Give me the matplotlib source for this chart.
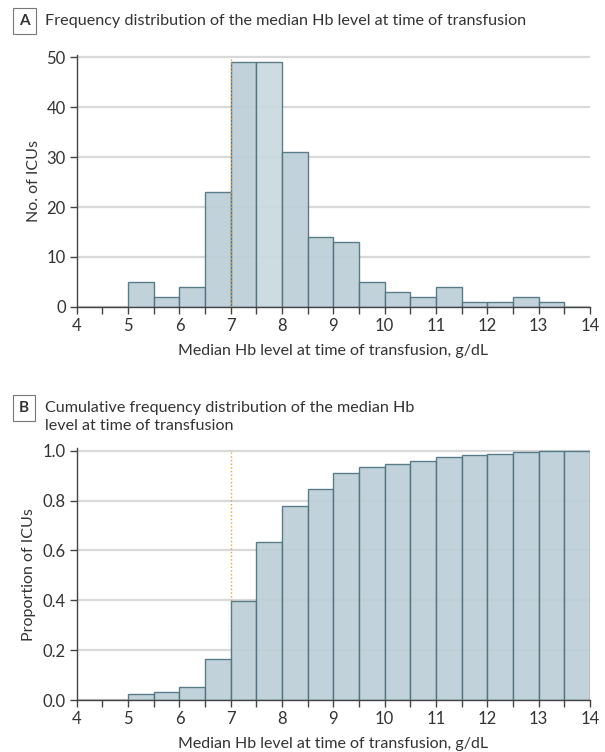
import numpy as np
import matplotlib
matplotlib.use('Agg')
import matplotlib.pyplot as plt
from matplotlib.ticker import MultipleLocator

plt.rcParams['font.family'] = ['Lato', 'DejaVu Sans']

# bin left edges (g/dL), width 0.5
bin_left = [4.0, 4.5, 5.0, 5.5, 6.0, 6.5, 7.0, 7.5, 8.0, 8.5,
            9.0, 9.5, 10.0, 10.5, 11.0, 11.5, 12.0, 12.5, 13.0, 13.5]
counts = [0, 0, 5, 2, 4, 23, 49, 49, 31, 14,
          13, 5, 3, 2, 4, 1, 1, 2, 1, 0]
cum_prop = [0, 0, 0.024, 0.033, 0.053, 0.163, 0.397, 0.632, 0.780, 0.847,
            0.909, 0.933, 0.947, 0.957, 0.976, 0.981, 0.986, 0.995, 1.0, 1.0]
highlight_bin = 7.5

fill = '#bccfd8'
fill_light = '#c9d9df'
edge = '#4e7480'
grid_c = '#d9d9d9'
text_c = '#333333'
orange = '#f0a030'

fig = plt.figure(figsize=(6.05, 7.52), dpi=100)
axA = fig.add_axes([0.127, 0.592, 0.848, 0.335])
axB = fig.add_axes([0.127, 0.069, 0.848, 0.335])


def style(ax, ymax, ystep, ylabel, fmt, ylab_x):
    ax.set_xlim(4, 14)
    ax.set_ylim(0, ymax)
    ax.xaxis.set_major_locator(MultipleLocator(1))
    ax.xaxis.set_minor_locator(MultipleLocator(0.5))
    ax.yaxis.set_major_locator(MultipleLocator(ystep))
    ax.set_yticklabels([fmt(v) for v in ax.get_yticks()])
    for s in ['top', 'right']:
        ax.spines[s].set_visible(False)
    for s in ['left', 'bottom']:
        ax.spines[s].set_color('#444444')
        ax.spines[s].set_linewidth(1.0)
    ax.tick_params(which='both', direction='out', color='#444444', labelcolor=text_c, labelsize=12, width=1.0)
    ax.tick_params(which='major', length=5, pad=3)
    ax.tick_params(which='minor', length=5)
    ax.yaxis.grid(True, color=grid_c, linewidth=1.6)
    ax.set_axisbelow(True)
    ax.set_xlabel('Median Hb level at time of transfusion, g/dL', fontsize=11.5, color=text_c, labelpad=7)
    ax.set_ylabel(ylabel, fontsize=11.5, color=text_c)
    ax.yaxis.set_label_coords(ylab_x, 0.5)


# panel A
colors = [fill_light if b == highlight_bin else fill for b in bin_left]
axA.bar(bin_left, counts, width=0.5, align='edge', color=colors, edgecolor=edge, linewidth=1.0, alpha=0.92, zorder=2)
axA.plot([7, 7], [0, 50], linestyle=':', color=orange, linewidth=1.0, zorder=3)
style(axA, 50, 10, 'No. of ICUs', lambda v: '%d' % v, -0.070)
axA.set_ylim(0, 50.5)

# panel B
axB.bar(bin_left, cum_prop, width=0.5, align='edge', color=fill, edgecolor=edge, linewidth=1.0, alpha=0.92, zorder=2)
axB.plot([7, 7], [0, 1.0], linestyle=':', color=orange, linewidth=1.0, zorder=1.5)
style(axB, 1.0, 0.2, 'Proportion of ICUs', lambda v: '%.1f' % v, -0.080)
axB.set_ylim(0, 1.01)


def letter_box(y, letter):
    fig.text(0.040, y, letter, fontsize=11, fontweight='bold', color=text_c, ha='center', va='center',
             bbox=dict(boxstyle='square,pad=0.4', facecolor='white', edgecolor='#777777', linewidth=0.8))


letter_box(1 - 21 / 752, 'A')
fig.text(0.074, 1 - 21 / 752, 'Frequency distribution of the median Hb level at time of transfusion',
         fontsize=11.6, color=text_c, ha='left', va='center')
letter_box(1 - 408 / 752, 'B')
fig.text(0.074, 1 - 408 / 752, 'Cumulative frequency distribution of the median Hb', fontsize=11.6, color=text_c,
         ha='left', va='center')
fig.text(0.074, 1 - 426 / 752, 'level at time of transfusion', fontsize=11.6, color=text_c, ha='left', va='center')

fig.savefig('out.png', dpi=100)
